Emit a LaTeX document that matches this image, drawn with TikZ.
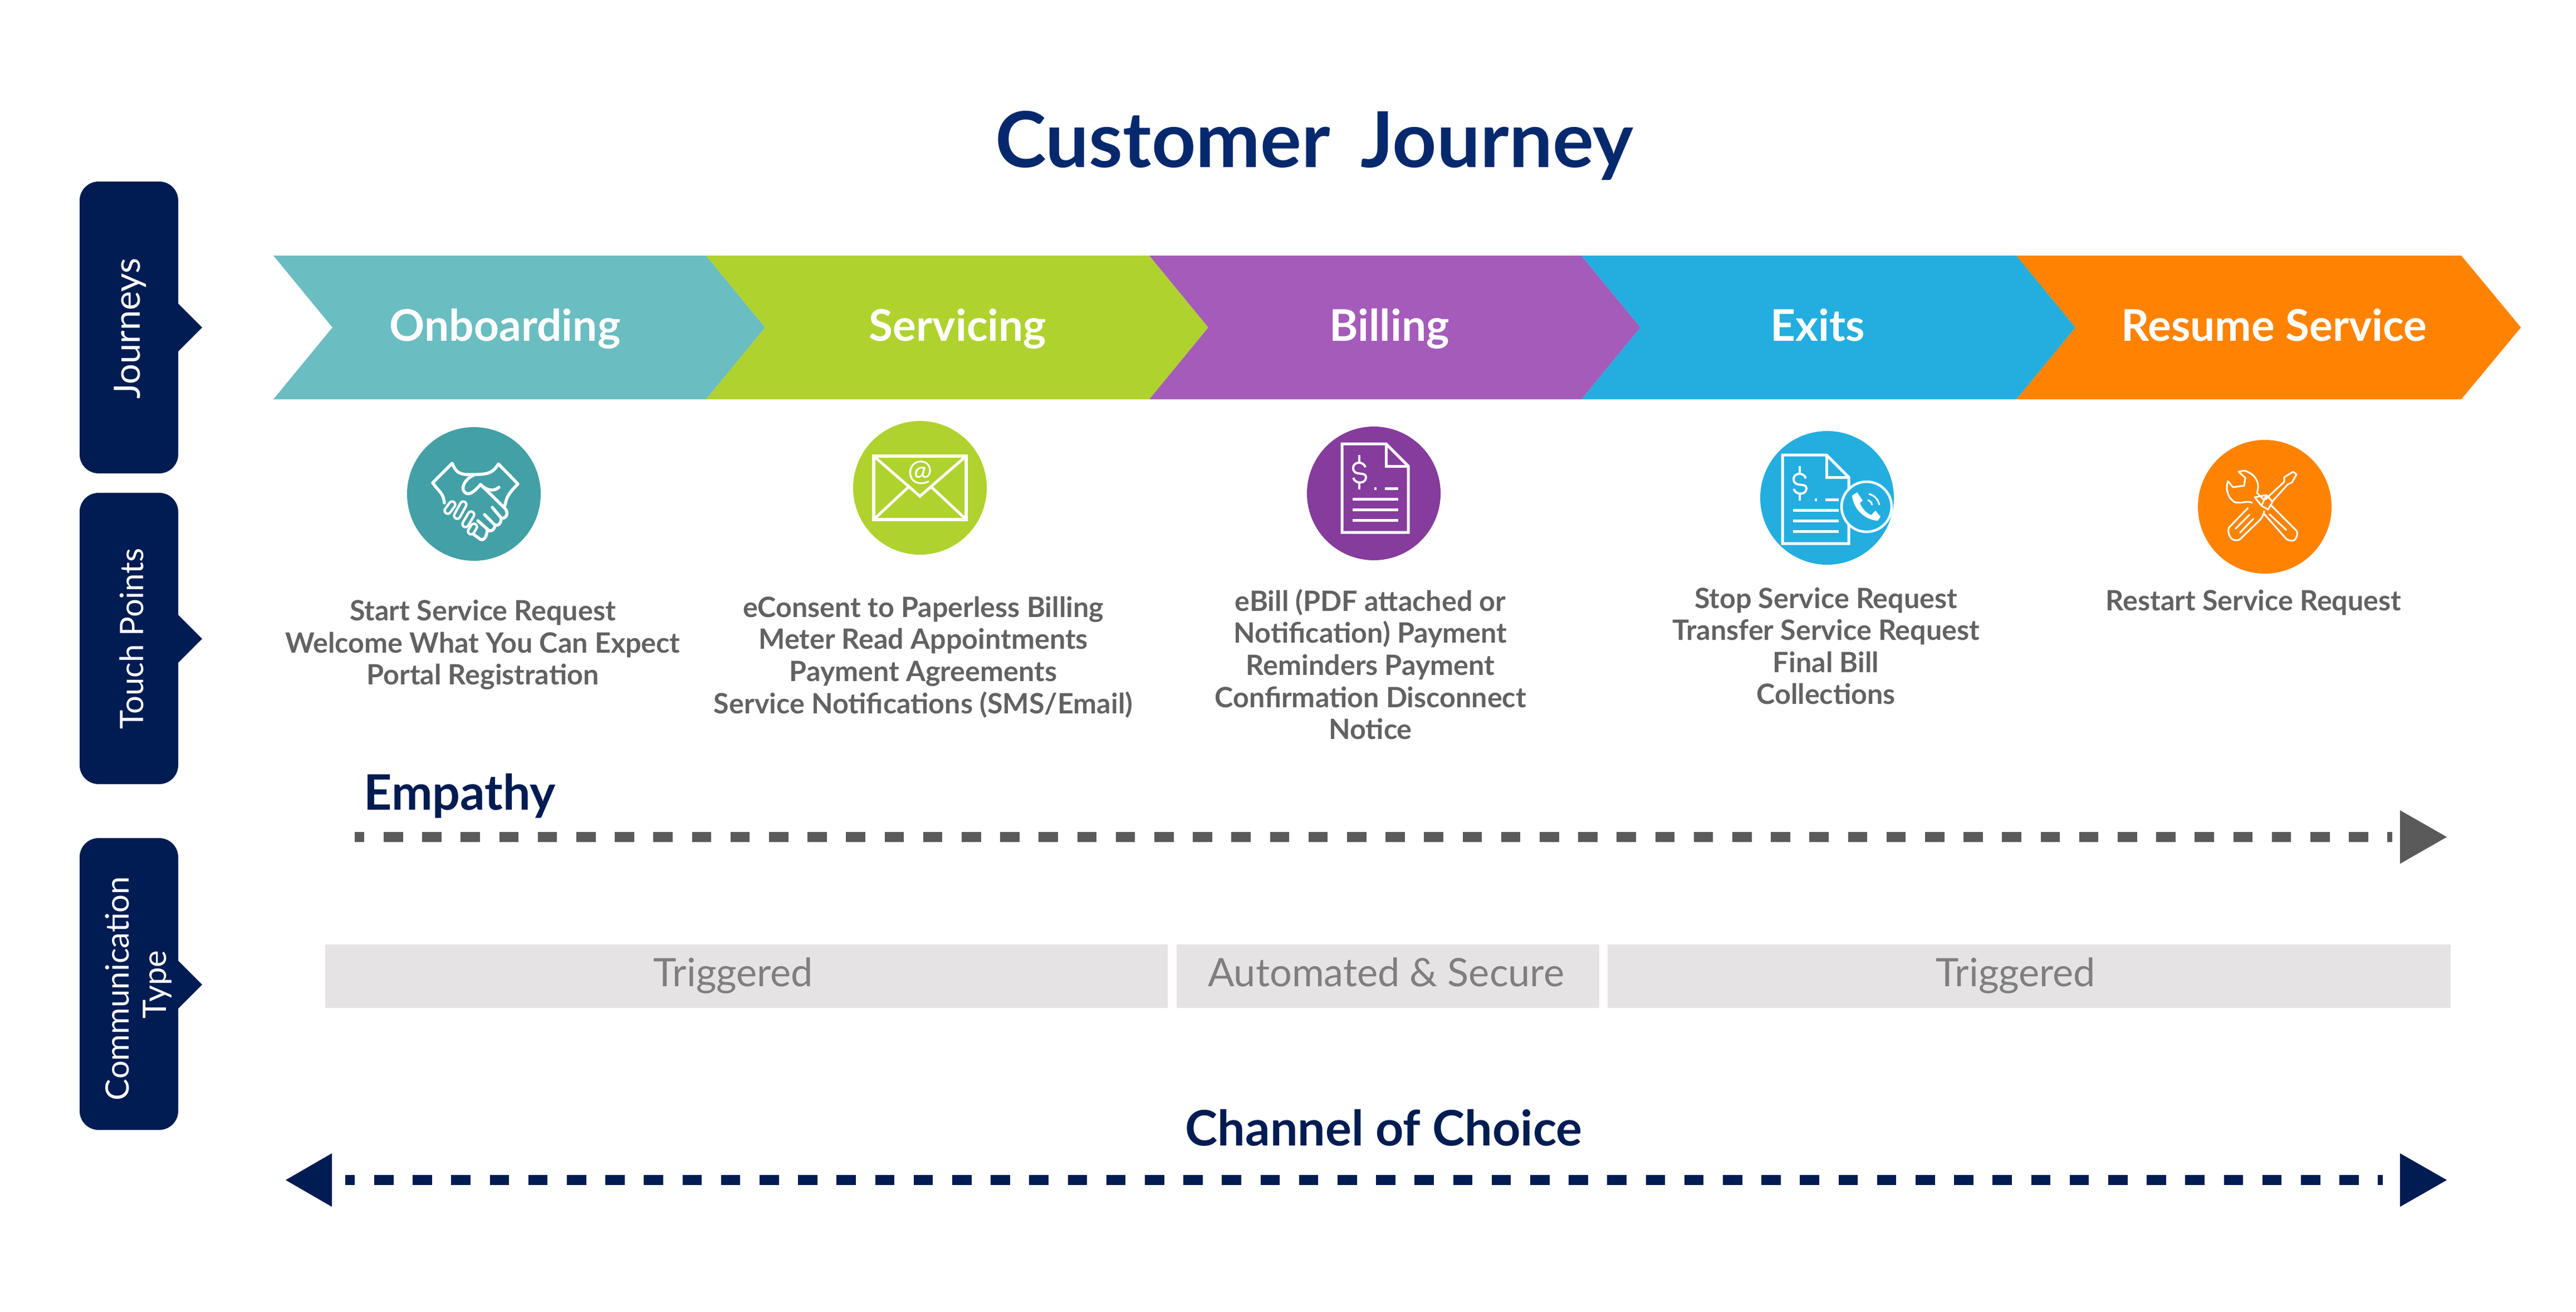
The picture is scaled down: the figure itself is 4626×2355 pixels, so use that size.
\documentclass[tikz,border=0pt]{standalone}
\usepackage{fontspec}
\setmainfont{Lato}
\usetikzlibrary{ positioning,
               }
\definecolor{navy}{HTML}{001C52}
\definecolor{titleblue}{HTML}{06296E}
\definecolor{tealband}{HTML}{6ABDC1}
\definecolor{tealdisc}{HTML}{43A0A6}
\definecolor{greenband}{HTML}{AFD22F}
\definecolor{purpleband}{HTML}{A55BB9}
\definecolor{purpledisc}{HTML}{853C9C}
\definecolor{blueband}{HTML}{23AEDF}
\definecolor{orangeband}{HTML}{FF8300}
\definecolor{darkgrey}{HTML}{5A5A5A}
\definecolor{textgrey}{HTML}{626262}
\definecolor{barlabel}{HTML}{7F7F7F}
\definecolor{bargrey}{HTML}{E5E3E4}
\tikzstyle{sidetab} = [fill=navy, rounded corners=3.4mm]
\tikzstyle{tablabel} = [rotate=90, text=white, font=\fontsize{16.5}{20}\selectfont, inner sep=0pt]
\tikzstyle{bandlabel} = [anchor=base, text=white, font=\fontsize{22.3}{26}\selectfont\bfseries, inner sep=0pt]
\tikzstyle{disc} = [circle, minimum size=24mm, inner sep=0pt]
\tikzstyle{touchtext} = [align=center, text=textgrey, font=\fontsize{14.3}{16.4}\selectfont\bfseries, inner sep=0pt]
\tikzstyle{headtext} = [text=navy, font=\fontsize{25}{30}\selectfont\bfseries, inner sep=0pt]
\tikzstyle{bar} = [fill=bargrey, minimum height=11.4mm, inner sep=0pt]
\tikzstyle{barword} = [anchor=base, text=barlabel, font=\fontsize{20}{24}\selectfont, inner sep=0pt]
\tikzstyle{dashline} = [line width=1.75mm, dash pattern=on 3.46mm off 3.46mm, dash phase=1.73mm]
\tikzstyle{icon} = [draw=white, line width=0.5mm, line join=miter]
\tikzstyle{thinicon} = [draw=white, line width=0.3mm, line join=round]
\tikzstyle{handicon} = [draw=white, line width=0.55mm, line join=round, line cap=round]
\tikzstyle{fingericon} = [draw=white, line width=0.45mm, line cap=round, double=tealdisc, double distance=0.65mm]
\tikzset{billicon/.pic={
  \draw [icon] (0,0) -- (79,0) -- (119,40) -- (119,159) -- (0,159) -- cycle;
  \draw [icon] (79,0) -- (79,40) -- (119,40);
  \draw [thinicon, line width=0.4mm] (31,20) -- (31,35) (31,68) -- (31,82);
  \draw [thinicon, line width=0.4mm] (42,42) .. controls (38,30) and (20,32) .. (20,43)
    .. controls (20,60) and (43,48) .. (43,60) .. controls (43,72) and (24,73) .. (20,61);
  \draw [icon] (58,80) -- (62,80) (77,80) -- (101,80);
  \draw [icon] (19,99) -- (101,99) (19,118) -- (101,118) (19,137) -- (101,137);
}}

\begin{document}
\begin{tikzpicture}[x=0.1mm, y=-0.1mm]
  \useasboundingbox (0,0) rectangle (4626,2355);

  \node (title) [text=titleblue, font=\fontsize{39.4}{48}\selectfont\bfseries, inner sep=0pt] at (2360,261) {Customer\hspace{0.15em} Journey};

  % side tabs
  \fill [sidetab] (143,326) -- (320,326) [sharp corners] -- (320,545) -- (363,588) -- (320,631) [rounded corners=3.4mm] -- (320,850) -- (143,850) -- cycle;
  \fill [sidetab] (143,885) -- (320,885) [sharp corners] -- (320,1104) -- (363,1147) -- (320,1190) [rounded corners=3.4mm] -- (320,1408) -- (143,1408) -- cycle;
  \fill [sidetab] (143,1505) -- (320,1505) [sharp corners] -- (320,1725) -- (363,1768) -- (320,1811) [rounded corners=3.4mm] -- (320,2029) -- (143,2029) -- cycle;
  \node (tab_journeys) [tablabel, font=\fontsize{18.5}{20}\selectfont] at (234,590) {Journeys};
  \node (tab_touch) [tablabel] at (236,1147) {Touch Points};
  \node (tab_comm) [tablabel] at (210,1775) {Communication};
  \node (tab_type) [tablabel] at (283,1768) {Type};

  % journey bands
  \fill [tealband] (491,459) -- (1268,459) -- (1374,588) -- (1268,717) -- (491,717) -- (597,588) -- cycle;
  \fill [greenband] (1268,459) -- (2064,459) -- (2170,588) -- (2064,717) -- (1268,717) -- (1374,588) -- cycle;
  \fill [purpleband] (2064,459) -- (2840,459) -- (2946,588) -- (2840,717) -- (2064,717) -- (2170,588) -- cycle;
  \fill [blueband] (2840,459) -- (3621,459) -- (3727,588) -- (3621,717) -- (2840,717) -- (2946,588) -- cycle;
  \fill [orangeband] (3621,459) -- (4420,459) -- (4527,588) -- (4420,717) -- (3621,717) -- (3727,588) -- cycle;
  \node (band_on) [bandlabel] at (907,612) {Onboarding};
  \node (band_se) [bandlabel] at (1720,612) {Servicing};
  \node (band_bi) [bandlabel] at (2495,612) {Billing};
  \node (band_ex) [bandlabel] at (3264,612) {Exits};
  \node (band_re) [bandlabel] at (4084,612) {Resume Service};

  % discs
  \node (disc_on) [disc, fill=tealdisc] at (851,887) {};
  \node (disc_se) [disc, fill=greenband] at (1652,876) {};
  \node (disc_bi) [disc, fill=purpledisc] at (2467,886) {};
  \node (disc_ex) [disc, fill=blueband] at (3281,894) {};
  \node (disc_re) [disc, fill=orangeband] at (4067,910) {};

  % handshake
  \draw [handicon] (798,903) .. controls (796,885) and (790,885) .. (777,867) -- (812,832)
    .. controls (820,850) and (825,853) .. (851,852) .. controls (875,852) and (885,850) .. (895,833)
    -- (930,869) .. controls (915,885) and (910,890) .. (907,907);
  \draw [handicon] (851,853) .. controls (835,860) and (828,875) .. (833,882) .. controls (840,892) and (850,885) .. (863,870)
    .. controls (870,878) and (885,885) .. (896,875);
  \draw [handicon] (863,870) -- (908,914) .. controls (915,925) and (905,933) .. (900,930) -- (884,911);
  \draw [handicon] (900,930) .. controls (900,940) and (895,945) .. (889,943) -- (870,924);
  \draw [handicon] (889,943) .. controls (888,952) and (880,957) .. (875,950) -- (858,935);
  \draw [handicon] (875,952) .. controls (874,965) and (868,972) .. (862,968) -- (851,960);
  \draw [fingericon] (812,906) -- (804,917);
  \draw [fingericon] (832,906) -- (821,926);
  \draw [fingericon] (846,924) -- (836,941);
  \draw [fingericon] (851,946) -- (846,954);

  % envelope
  \draw [icon, line width=0.6mm] (1569,819) rectangle (1735,933);
  \draw [icon] (1569,819) -- (1652,891) -- (1735,819);
  \draw [icon] (1632,874) -- (1572,930);
  \draw [icon] (1672,874) -- (1732,930);
  \node (at_sign) [text=white, font=\fontsize{15}{15}\selectfont, inner sep=0pt] at (1653,849) {@};

  % bills
  \pic at (2410,797) {billicon};
  \pic at (3201,817) {billicon};
  \node (phone) [circle, draw=white, fill=blueband, line width=0.45mm, minimum size=9mm, inner sep=0pt] at (3352,910) {};
  \fill [white] (3326,890) -- (3335,884) -- (3345,899) -- (3340,903) .. controls (3343,912) and (3351,921) .. (3360,925)
    -- (3368,917) -- (3377,928) -- (3372,935) .. controls (3350,934) and (3328,915) .. (3326,890) -- cycle;
  \draw [thinicon] (3356,887) .. controls (3366,889) and (3373,897) .. (3375,907);
  \draw [thinicon] (3354,898) .. controls (3358,899) and (3361,902) .. (3362,907);

  % tools
  \draw [thinicon] (4037,912) -- (4003,947) .. controls (3999,955) and (4005,970) .. (4014,970)
    .. controls (4020,971) and (4024,968) .. (4026,965) -- (4060,932) .. controls (4064,925) and (4066,922) .. (4066,917);
  \draw [thinicon] (4040,924) -- (4014,950) (4047,931) -- (4022,957);
  \draw [thinicon] (4068,897) -- (4102,865) -- (4102,857) -- (4118,847) -- (4124,852) -- (4116,866) -- (4108,870) -- (4081,900);
  \draw [thinicon] (4049,893) -- (4070,889) -- (4081,901) -- (4073,915) -- (4061,908) -- cycle;
  \draw [thinicon] (4070,889) -- (4061,908);
  \draw [thinicon] (4045,903) .. controls (4035,898) and (4025,905) .. (4014,902) .. controls (4003,897) and (3995,880) .. (4001,864)
    -- (4010,875) -- (4030,872) -- (4032,858) -- (4020,847) -- (4030,845) .. controls (4048,850) and (4060,865) .. (4053,885) -- (4066,898);
  \draw [thinicon] (4079,908) -- (4124,953) .. controls (4128,960) and (4122,972) .. (4116,971) .. controls (4110,970) and (4108,970) .. (4106,968) -- (4066,923);
  \draw [thinicon] (4075,923) -- (4106,952);

  % touch point texts
  \node (touch_on) [touchtext] at (867,1158) {Start Service Request\\Welcome What You Can Expect\\Portal Registration};
  \node (touch_se) [touchtext] at (1658,1180) {eConsent to Paperless Billing\\Meter Read Appointments\\Payment Agreements\\Service Notifications (SMS/Email)};
  \node (touch_bi) [touchtext] at (2461,1193) {eBill (PDF attached or\\Notification) Payment\\Reminders Payment\\Confirmation Disconnect\\Notice};
  \node (touch_ex) [touchtext] at (3279,1160) {Stop Service Request\\Transfer Service Request\\Final Bill\\Collections};
  \node (touch_re) [touchtext] at (4047,1082) {Restart Service Request};

  % empathy
  \node (empathy) [headtext, anchor=base west] at (653,1454) {Empathy};
  \coordinate (empathy_a) at (637,1503);
  \coordinate (empathy_b) at (4296,1503);
  \draw [dashline, draw=darkgrey] (empathy_a) -- (empathy_b);
  \fill [darkgrey] (4310,1455) -- (4394,1503) -- (4310,1551) -- cycle;

  % communication type
  \node (bar_a) [bar, minimum width=151.3mm] at (1340.5,1753) {};
  \node (bar_b) [bar, minimum width=75.9mm] at (2492.5,1753) {};
  \node (bar_c) [bar, minimum width=151.4mm] at (3644,1753) {};
  \node (word_a) [barword] at (1317,1771) {Triggered};
  \node (word_b) [barword] at (2489,1771) {Automated \& Secure};
  \node (word_c) [barword] at (3620,1771) {Triggered};

  % channel
  \node (channel) [headtext] at (2485,2025) {Channel of Choice};
  \coordinate (channel_a) at (620,2119);
  \coordinate (channel_b) at (4279,2119);
  \draw [dashline, draw=navy] (channel_a) -- (channel_b);
  \fill [navy] (596,2071) -- (513,2119) -- (596,2167) -- cycle;
  \fill [navy] (4310,2071) -- (4394,2119) -- (4310,2167) -- cycle;
\end{tikzpicture}
\end{document}
